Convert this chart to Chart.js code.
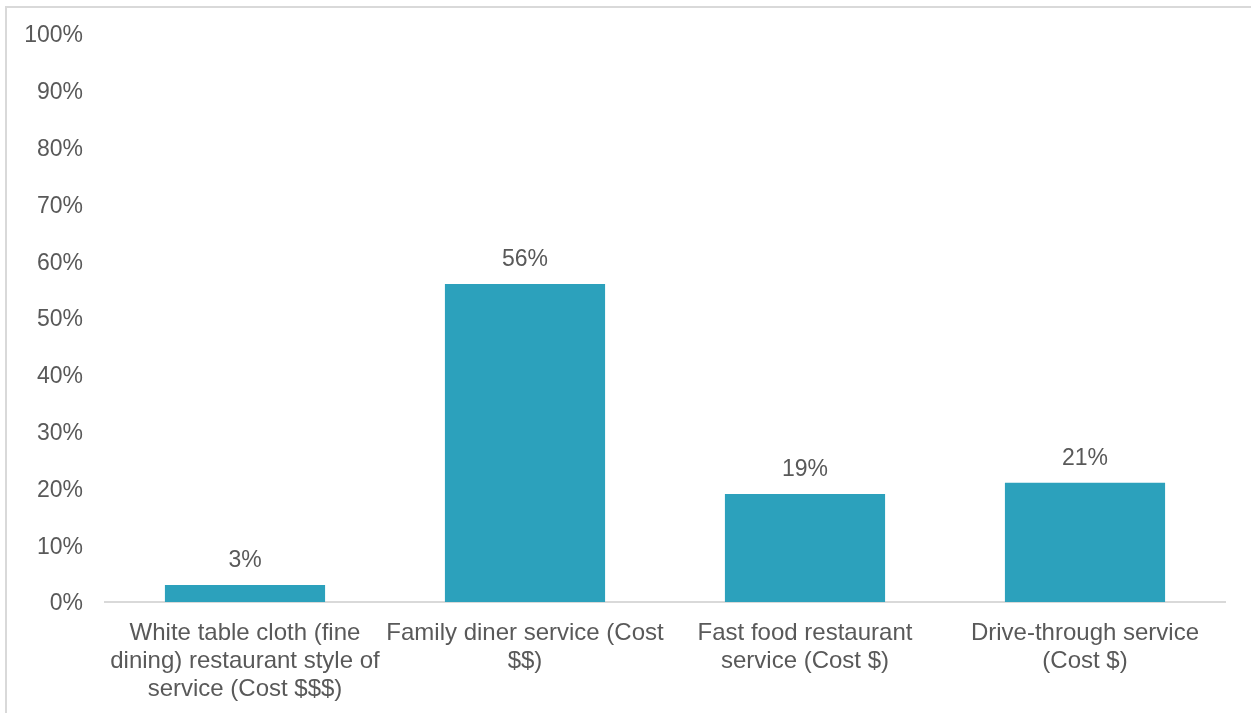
<!DOCTYPE html>
<html>
<head>
<meta charset="utf-8">
<script src="https://cdn.jsdelivr.net/npm/chart.js@4/dist/chart.umd.min.js"></script>
<style>
    html, body { margin: 0; padding: 0; background: #fff; }
    #frame {
        position: absolute;
        left: 5px;
        top: 6px;
        width: 1300px;
        height: 800px;
        border-left: 2px solid #d9d9d9;
        border-top: 2px solid #d9d9d9;
    }
    #wrap { position: absolute; left: 0; top: 0; width: 1251px; height: 713px; }
</style>
</head>
<body>
<div id="frame"></div>
<div id="wrap"><canvas id="serviceChart"></canvas></div>
<script>
// Loại hình dịch vụ nhà hàng và tỷ lệ (%)
const serviceTypes = [
    ['White table cloth (fine', 'dining) restaurant style of', 'service (Cost $$$)'],
    ['Family diner service (Cost', '$$)'],
    ['Fast food restaurant', 'service (Cost $)'],
    ['Drive-through service', '(Cost $)']
];
const serviceShares = [3, 56, 19, 21];
const yTicks = [0, 10, 20, 30, 40, 50, 60, 70, 80, 90, 100];

const textColor = '#595959';
const fontFamily = '"Liberation Sans", Arial, sans-serif';

// Ghi giá trị phía trên mỗi cột
const barValueLabels = {
    id: 'barValueLabels',
    afterDatasetsDraw(chart) {
        const ctx = chart.ctx;
        const meta = chart.getDatasetMeta(0);
        ctx.save();
        ctx.fillStyle = textColor;
        ctx.font = '23px ' + fontFamily;
        ctx.textAlign = 'center';
        ctx.textBaseline = 'bottom';
        meta.data.forEach((bar, i) => {
            ctx.fillText(serviceShares[i] + '%', bar.x, bar.y - 13);
        });
        ctx.restore();
    }
};

function renderServiceChart() {
    const ctx = document.getElementById('serviceChart').getContext('2d');

    new Chart(ctx, {
        type: 'bar',
        data: {
            labels: serviceTypes,
            datasets: [{
                data: serviceShares,
                backgroundColor: '#2ca1bc',
                categoryPercentage: 1,
                barPercentage: 0.572
            }]
        },
        options: {
            responsive: true,
            maintainAspectRatio: false,
            animation: false,
            layout: { padding: { top: 34, right: 26, left: 0, bottom: 0 } },
            plugins: {
                legend: { display: false },
                tooltip: { enabled: false }
            },
            scales: {
                x: {
                    grid: { display: false },
                    border: { display: true, color: '#d9d9d9', width: 2 },
                    ticks: {
                        color: textColor,
                        font: { family: fontFamily, size: 24, lineHeight: 1.167 },
                        padding: 9,
                        maxRotation: 0,
                        autoSkip: false
                    },
                    afterFit(scale) { scale.height = 111; }
                },
                y: {
                    min: 0,
                    max: 100,
                    grid: { display: false },
                    border: { display: false },
                    afterBuildTicks(scale) {
                        scale.ticks = yTicks.map(v => ({ value: v }));
                    },
                    ticks: {
                        color: textColor,
                        font: { family: fontFamily, size: 23 },
                        padding: 14,
                        labelOffset: 2,
                        callback: v => v + '%'
                    },
                    afterFit(scale) { scale.width = 105; }
                }
            }
        },
        plugins: [barValueLabels]
    });
}

document.addEventListener('DOMContentLoaded', renderServiceChart);
</script>
</body>
</html>
